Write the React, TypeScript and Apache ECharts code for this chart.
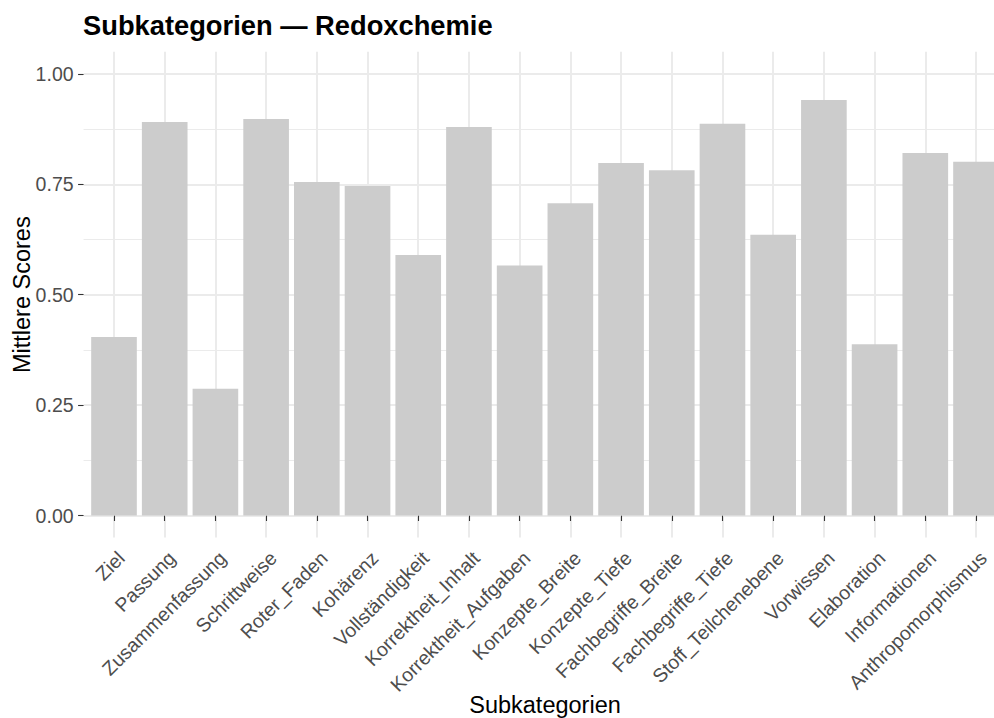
import React, { useEffect, useRef } from "react";
import * as echarts from "echarts";

const categories = [
  "Ziel",
  "Passung",
  "Zusammenfassung",
  "Schrittweise",
  "Roter_Faden",
  "Kohärenz",
  "Vollständigkeit",
  "Korrektheit_Inhalt",
  "Korrektheit_Aufgaben",
  "Konzepte_Breite",
  "Konzepte_Tiefe",
  "Fachbegriffe_Breite",
  "Fachbegriffe_Tiefe",
  "Stoff_Teilchenebene",
  "Vorwissen",
  "Elaboration",
  "Informationen",
  "Anthropomorphismus",
];

const meanScores = [
  0.404, 0.891, 0.287, 0.898, 0.755, 0.746, 0.59, 0.88, 0.566, 0.707, 0.798,
  0.782, 0.887, 0.636, 0.941, 0.388, 0.821, 0.801,
];

const yTicks = [0, 0.25, 0.5, 0.75, 1.0];

const titleText = "Subkategorien — Redoxchemie";
const xTitle = "Subkategorien";
const yTitle = "Mittlere Scores";

const FONT = "'Liberation Sans', Arial, Helvetica, sans-serif";

export default function App() {
  const ref = useRef<HTMLDivElement>(null);

  useEffect(() => {
    if (!ref.current) return;
    const chart = echarts.init(ref.current, undefined, { renderer: "svg" });

    // layout (px)
    const step = 50.706;
    const firstX = 114.0;
    const n = categories.length;
    const y0 = 515.5; // pixel of value 0
    const unit = 441.6; // px per 1.0
    const panelTop = y0 - 1.05 * unit;
    const panelBottom = y0 + 0.05 * unit;
    const panelLeft = firstX - 0.6 * step;
    const panelWidth = (n - 1 + 1.2) * step;

    const option: any = {
      animation: false,
      backgroundColor: "#FFFFFF",
      grid: [
        {
          left: firstX,
          width: (n - 1) * step,
          top: panelTop,
          height: panelBottom - panelTop,
          containLabel: false,
        },
        {
          left: panelLeft,
          width: panelWidth,
          top: y0 - unit,
          height: unit,
          containLabel: false,
        },
      ],
      xAxis: [
        {
          type: "category",
          gridIndex: 0,
          data: categories,
          boundaryGap: false,
          axisLine: { show: false },
          axisTick: {
            show: true,
            length: 5.5,
            lineStyle: { color: "#333333", width: 1.1 },
          },
          splitLine: {
            show: true,
            lineStyle: { color: "#EBEBEB", width: 2 },
          },
          axisLabel: {
            show: true,
            interval: 0,
            rotate: 45,
            margin: 10,
            fontSize: 19.5,
            fontFamily: FONT,
            color: "#4D4D4D",
            align: "right",
            verticalAlign: "top",
          },
        },
        {
          type: "value",
          gridIndex: 1,
          min: 0,
          max: 1,
          show: false,
        },
      ],
      yAxis: [
        {
          type: "value",
          gridIndex: 0,
          min: -0.05,
          max: 1.05,
          show: false,
          splitLine: { show: false },
        },
        {
          type: "value",
          gridIndex: 1,
          min: yTicks[0],
          max: yTicks[yTicks.length - 1],
          interval: 0.25,
          axisLine: { show: false },
          axisTick: {
            show: true,
            length: 5.5,
            lineStyle: { color: "#333333", width: 1.1 },
          },
          axisLabel: {
            show: true,
            margin: 10,
            fontSize: 19.5,
            fontFamily: FONT,
            color: "#4D4D4D",
            formatter: (v: number) => v.toFixed(2),
          },
          splitLine: {
            show: true,
            lineStyle: { color: "#EBEBEB", width: 2 },
          },
          minorTick: { show: false, splitNumber: 2 },
          minorSplitLine: {
            show: true,
            lineStyle: { color: "#EBEBEB", width: 1 },
          },
        },
      ],
      series: [
        {
          type: "bar",
          xAxisIndex: 0,
          yAxisIndex: 0,
          data: meanScores,
          barWidth: 0.9 * step,
          clip: false,
          itemStyle: { color: "#CCCCCC" },
          emphasis: { disabled: true },
          z: 3,
        },
      ],
      graphic: [
        {
          type: "text",
          left: 83,
          top: 12,
          style: {
            text: titleText,
            fontSize: 27.3,
            fontWeight: "bold",
            fontFamily: FONT,
            fill: "#000000",
          },
        },
        {
          type: "text",
          x: panelLeft + panelWidth / 2,
          y: 705,
          style: {
            text: xTitle,
            fontSize: 23.5,
            fontFamily: FONT,
            fill: "#000000",
            align: "center",
            verticalAlign: "middle",
          },
        },
        {
          type: "text",
          x: 22,
          y: (panelTop + panelBottom) / 2,
          rotation: Math.PI / 2,
          style: {
            text: yTitle,
            fontSize: 23.5,
            fontFamily: FONT,
            fill: "#000000",
            align: "center",
            verticalAlign: "middle",
          },
        },
      ],
    };

    chart.setOption(option);
    return () => {
      chart.dispose();
    };
  }, []);

  return (
    <div
      ref={ref}
      style={{
        position: "absolute",
        left: 0,
        top: 0,
        width: 994,
        height: 718,
        overflow: "hidden",
      }}
    />
  );
}
